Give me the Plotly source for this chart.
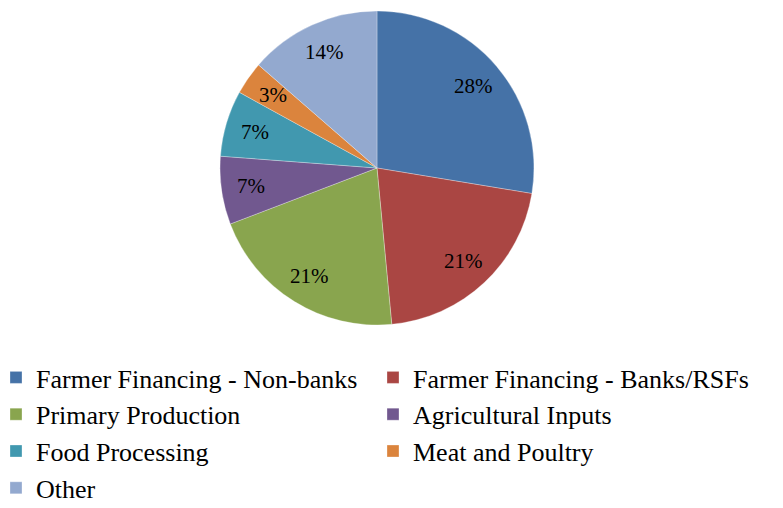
import math
import plotly.graph_objs as go

# Sector shares (percent)
labels = [
    "Farmer Financing - Non-banks",
    "Farmer Financing - Banks/RSFs",
    "Primary Production",
    "Agricultural Inputs",
    "Food Processing",
    "Meat and Poultry",
    "Other",
]
values = [27.6, 20.9, 20.7, 7.0, 6.8, 3.4, 13.6]
colors = ["#4572A7", "#AA4643", "#89A54E", "#71588F", "#4198AF", "#DB843D", "#93A9CF"]

# page body keeps its default 8px margin, so the figure is 8px smaller each way
W, H = 775, 500
dom_x = [0.2735, 0.6787]
dom_y = [0.366, 0.994]
SERIF = '"Liberation Serif", "Times New Roman", Times, serif'

fig = go.Figure()

fig.add_trace(
    go.Pie(
        labels=labels,
        values=values,
        sort=False,
        direction='clockwise',
        rotation=0,
        marker=dict(colors=colors, line=dict(color='rgba(255,255,255,0.5)', width=0.6)),
        textinfo='none',
        domain=dict(x=dom_x, y=dom_y),
        hoverinfo='label+percent',
    )
)

# Percent labels placed at ~80% of the radius along each slice's mid-angle
total = sum(values)
cx = (dom_x[0] + dom_x[1]) / 2 * W
cy = (1 - (dom_y[0] + dom_y[1]) / 2) * H
radius = min((dom_x[1] - dom_x[0]) * W, (dom_y[1] - dom_y[0]) * H) / 2
cum = 0
for v in values:
    mid = (cum + v / 2) / total * 2 * math.pi
    cum += v
    px = cx + 0.81 * radius * math.sin(mid)
    py = cy - 0.81 * radius * math.cos(mid)
    fig.add_annotation(
        x=px / W,
        y=1 - py / H,
        xref='paper',
        yref='paper',
        text=f"{round(v / total * 100)}%",
        showarrow=False,
        font=dict(family=SERIF, size=21, color='black'),
        xanchor='center',
        yanchor='middle',
    )

fig.update_layout(
    width=W,
    height=H,
    paper_bgcolor='white',
    plot_bgcolor='white',
    font=dict(family=SERIF, color='black'),
    showlegend=True,
    legend=dict(
        orientation='h',
        x=0,
        xanchor='left',
        y=-0.008,
        yanchor='bottom',
        entrywidth=344,
        indentation=-12,
        font=dict(family=SERIF, size=26, color='black'),
        traceorder='normal',
    ),
    margin=dict(l=0, r=0, t=0, b=0, autoexpand=False),
)

fig.write_html("out.html")
